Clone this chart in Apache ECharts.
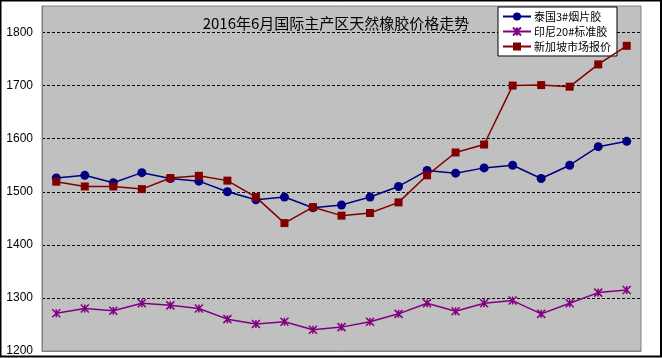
<!DOCTYPE html>
<html>
<head>
<meta charset="utf-8">
<script src="https://cdn.jsdelivr.net/npm/echarts@6/dist/echarts.min.js"></script>
<style>
html,body{margin:0;padding:0;background:#fff;}
#c{width:662px;height:358px;}
</style>
</head>
<body>
<div id="c"></div>
<script>
var titleText = '2016年6月国际主产区天然橡胶价格走势';
var categories = ['1','2','3','4','5','6','7','8','9','10','11','12','13','14','15','16','17','18','19','20','21'];
var seriesNames = ['泰国3#烟片胶', '印尼20#标准胶', '新加坡市场报价'];
var thaiRSS3 = [1526, 1531, 1517, 1536, 1525, 1520, 1500, 1485, 1490, 1470, 1475, 1490, 1510, 1540, 1535, 1545, 1550, 1525, 1550, 1585, 1595];
var indoSIR20 = [1271, 1280, 1276, 1290, 1286, 1280, 1260, 1251, 1255, 1240, 1245, 1255, 1270, 1290, 1275, 1290, 1295, 1270, 1290, 1310, 1315];
var singapore = [1519, 1510, 1510, 1505, 1526, 1530, 1521, 1490, 1441, 1471, 1455, 1460, 1480, 1531, 1574, 1589, 1700, 1701, 1698, 1740, 1775];
var yMin = 1200, yMax = 1850, yStep = 100;

var chart = echarts.init(document.getElementById('c'), null, {renderer: 'canvas'});
var star = 'path://M0,0 L10,10 M10,0 L0,10 M5,0 L5,10';
chart.setOption({
  animation: false,
  backgroundColor: '#ffffff',
  title: {
    text: titleText,
    left: 331, top: 11, textAlign: 'center',
    textStyle: {fontFamily: '"Noto Sans CJK SC", sans-serif', fontSize: 15, fontWeight: 'normal', color: '#000'}
  },
  legend: {
    orient: 'vertical',
    left: 498, top: 7,
    backgroundColor: '#ffffff',
    borderColor: '#000', borderWidth: 1,
    padding: [4, 6, 4, 4],
    itemWidth: 28, itemHeight: 10, itemGap: 4,
    textStyle: {fontFamily: '"Noto Sans CJK SC", sans-serif', fontSize: 11, color: '#000', padding: [0,0,0,-2]},
    data: seriesNames
  },
  graphic: [{
    type: 'rect', silent: true, z: 100,
    shape: {x: 0.5, y: 0.5, width: 660.5, height: 356},
    style: {fill: 'none', stroke: '#000', lineWidth: 2}
  }],
  grid: {
    left: 42, top: 6, right: 21, bottom: 7,
    show: true, backgroundColor: '#c0c0c0', borderColor: '#808080', borderWidth: 1
  },
  xAxis: {
    type: 'category', data: categories, boundaryGap: true,
    axisLine: {show: true, lineStyle: {color: '#808080'}},
    axisTick: {show: false}, axisLabel: {show: false}, splitLine: {show: false}
  },
  yAxis: {
    type: 'value', min: yMin, max: yMax, interval: yStep,
    axisLine: {show: true, lineStyle: {color: '#808080'}},
    axisTick: {show: false},
    axisLabel: {show: true, showMaxLabel: false, margin: 9, fontFamily: 'Arial, "Liberation Sans", sans-serif', fontSize: 12, color: '#000',
      formatter: function (v) { return String(v); }},
    splitLine: {show: true, showMinLine: false, showMaxLine: false, lineStyle: {color: '#000', type: [3, 2], width: 1}}
  },
  series: [
    {
      name: seriesNames[0], type: 'line', data: thaiRSS3,
      symbol: 'circle', symbolSize: 9,
      lineStyle: {color: '#000080', width: 1.5},
      itemStyle: {color: '#000080'}, z: 3
    },
    {
      name: seriesNames[1], type: 'line', data: indoSIR20,
      symbol: star, symbolSize: 8,
      lineStyle: {color: '#800080', width: 1.5},
      itemStyle: {color: '#800080', borderColor: '#800080', borderWidth: 1.5}, z: 2
    },
    {
      name: seriesNames[2], type: 'line', data: singapore,
      symbol: 'rect', symbolSize: 8,
      lineStyle: {color: '#800000', width: 1.5},
      itemStyle: {color: '#800000'}, z: 4
    }
  ]
});
</script>
</body>
</html>
